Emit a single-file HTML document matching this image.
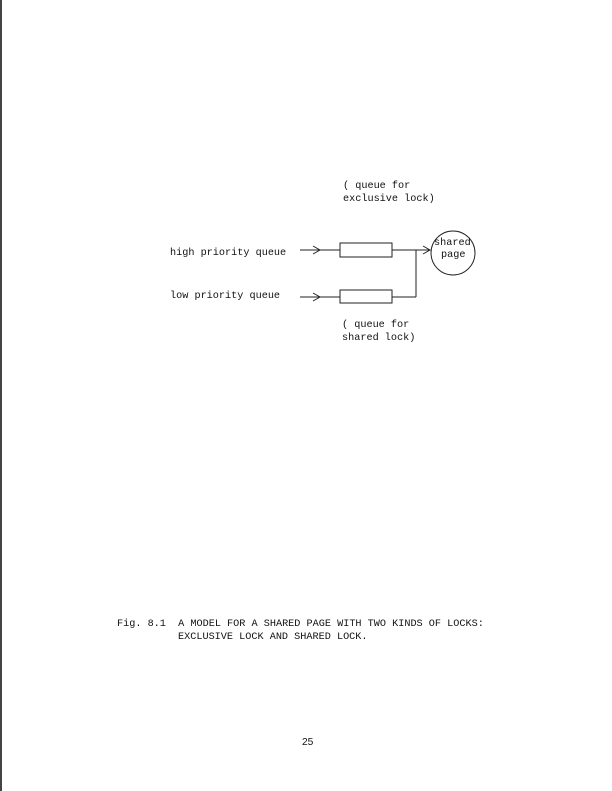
<!DOCTYPE html>
<html><head><style>
body{margin:0;background:#fff;}
.p{position:relative;width:612px;height:791px;overflow:hidden;background:#fff;}
.t{position:absolute;font-family:"Liberation Mono",monospace;font-size:10.2px;color:#111;white-space:pre;line-height:12px;}
</style></head><body><div class="p">
<div style="position:absolute;left:0;top:0;width:2px;height:791px;background:#444"></div>
<div class="t" style="left:343px;top:181px">( queue for</div>
<div class="t" style="left:343px;top:194px">exclusive lock)</div>
<div class="t" style="left:170px;top:248px">high priority queue</div>
<div class="t" style="left:170px;top:291px">low priority queue</div>
<div class="t" style="left:342px;top:320px">( queue for</div>
<div class="t" style="left:342px;top:333px">shared lock)</div>
<div class="t" style="left:434px;top:238px">shared</div>
<div class="t" style="left:441px;top:250px">page</div>
<svg width="612" height="791" style="position:absolute;left:0;top:0" fill="none" stroke="#222" stroke-width="1">
<line x1="300" y1="250" x2="340" y2="250"/><path d="M313 246 L320 250 L313 254"/>
<rect x="340" y="243" width="52" height="14"/>
<line x1="392" y1="250" x2="430" y2="250"/><path d="M423 246 L430 250 L423 254"/>
<line x1="300" y1="297" x2="340" y2="297"/><path d="M313 293 L320 297 L313 301"/>
<rect x="340" y="290" width="52" height="13"/>
<line x1="392" y1="297" x2="416" y2="297"/>
<line x1="416" y1="250" x2="416" y2="297"/>
<circle cx="453" cy="253" r="22"/>
</svg>
<div class="t" style="left:117px;top:619px">Fig. 8.1  A MODEL FOR A SHARED PAGE WITH TWO KINDS OF LOCKS:</div>
<div class="t" style="left:178px;top:632px">EXCLUSIVE LOCK AND SHARED LOCK.</div>
<div class="t" style="left:302px;top:737px;font-family:'Liberation Sans',sans-serif">25</div>
</div></body></html>
